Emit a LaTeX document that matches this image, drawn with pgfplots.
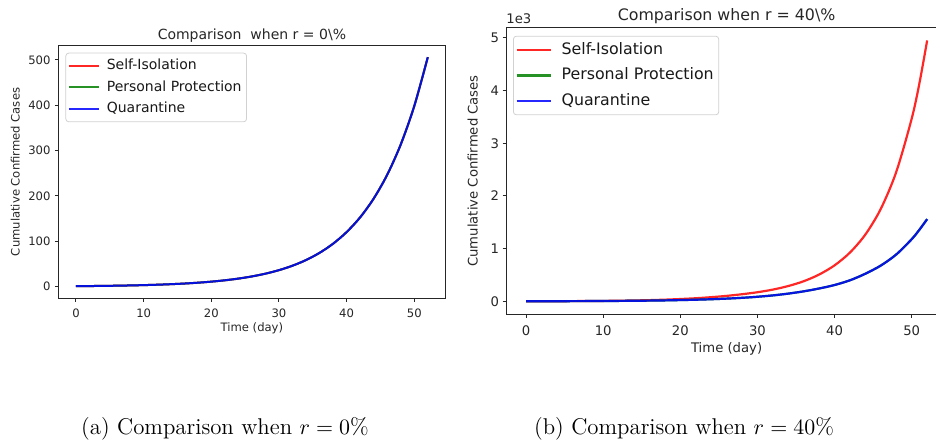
\documentclass[border=0pt]{standalone}
\usepackage{fontspec}
\newfontfamily\dv{DejaVu Sans}
\usepackage{pgfplots}
\usepackage{pgfplotstable}
\pgfplotsset{compat=1.18}

% r = 0%: the three curves coincide
\pgfplotstableread{
t si pp qu
0 1.00 1.00 1.00
2 1.27 1.27 1.27
4 1.61 1.61 1.61
6 2.05 2.05 2.05
8 2.61 2.61 2.61
10 3.31 3.31 3.31
12 4.21 4.21 4.21
14 5.35 5.35 5.35
16 6.79 6.79 6.79
18 8.63 8.63 8.63
20 10.97 10.97 10.97
22 13.93 13.93 13.93
24 17.70 17.70 17.70
26 22.49 22.49 22.49
28 28.58 28.58 28.58
30 36.32 36.32 36.32
32 46.14 46.14 46.14
34 58.63 58.63 58.63
36 74.49 74.49 74.49
38 94.65 94.65 94.65
40 120.3 120.3 120.3
42 152.8 152.8 152.8
44 194.2 194.2 194.2
46 246.7 246.7 246.7
48 313.5 313.5 313.5
50 398.3 398.3 398.3
52 506.0 506.0 506.0
}\zerodata

% r = 40%, in thousands of cases
\pgfplotstableread{
t si pp qu
0 0.0020 0.0018 0.0018
2 0.0024 0.0024 0.0024
4 0.0031 0.0030 0.0030
6 0.0043 0.0040 0.0040
8 0.0060 0.0050 0.0050
10 0.0084 0.0066 0.0066
12 0.0118 0.0085 0.0085
14 0.0165 0.0110 0.0110
16 0.0230 0.0140 0.0140
18 0.0320 0.0180 0.0180
20 0.0440 0.0240 0.0240
22 0.0590 0.0310 0.0310
24 0.0790 0.0400 0.0400
26 0.1040 0.0520 0.0520
28 0.1350 0.0670 0.0670
30 0.1730 0.0870 0.0870
32 0.2230 0.1130 0.1130
34 0.2910 0.1470 0.1470
36 0.3820 0.1900 0.1900
38 0.5090 0.2440 0.2440
40 0.6830 0.3100 0.3100
42 0.9270 0.4000 0.4000
44 1.2700 0.5250 0.5250
46 1.7580 0.6800 0.6800
48 2.4580 0.8900 0.8900
50 3.4690 1.1800 1.1800
51 4.1400 1.3600 1.3600
52 4.9500 1.5600 1.5600
}\fortydata

\definecolor{mplgreen}{rgb}{0,0.5,0}
\definecolor{axgray}{gray}{0.15}

\pgfplotsset{
  mpl/.style={
    scale only axis,
    anchor=south west,
    clip mode=individual,
    axis line style={axgray, line width=0.5pt},
    tick align=outside,
    xtick pos=bottom, ytick pos=left,
    tick style={axgray, line width=0.5pt},
    major tick length=1.75pt,
    xtick={0,10,...,50},
    xmin=-2.6, xmax=54.6,
    tick label style={/pgf/number format/assume math mode=true, text=axgray},
    xticklabel style={anchor=base, inner sep=0pt},
    yticklabel style={anchor=east, inner sep=0pt},
    legend cell align=left,
    legend style={at={(0,1)}, anchor=north west, xshift=3.5pt,
      draw=black!18, rounded corners=1.5pt, inner xsep=1pt,
      nodes={inner xsep=1.5pt, inner ysep=0.8pt, text=black!90}},
    every axis title/.style={at={(0.5,1)}, anchor=base, inner sep=0pt, yshift=3.2pt, text=axgray},
    xlabel={Time (day)},
    ylabel={Cumulative Confirmed Cases},
  },
}

\begin{document}
\begin{tikzpicture}
\path[use as bounding box] (0pt,0pt) rectangle (468pt,222pt);

\begin{axis}[
  mpl,
  at={(29.2pt,72.95pt)},
  width=193.5pt, height=126.2pt,
  ymin=-25.3, ymax=531.3,
  ytick={0,100,...,500},
  font=\dv\fontsize{5.8}{7}\selectfont,
  xticklabel style={yshift=-7.8pt},
  yticklabel style={xshift=-2pt},
  title={\fontsize{7}{8}\selectfont Comparison\ \ when r = 0\textbackslash\%},
  every axis y label/.style={at={(rel axis cs:0,0.5)}, rotate=90, anchor=center, yshift=21.5pt, text=axgray},
  every axis x label/.style={at={(rel axis cs:0.5,0)}, anchor=center, yshift=-15.3pt, text=axgray},
  legend style={font=\dv\fontsize{7}{8}\selectfont, yshift=-3.5pt, row sep=2.4pt, inner ysep=2.15pt},
  legend image code/.code={\draw[#1] (0pt,0pt) -- (15pt,0pt); \path (17pt,0pt);},
]
\addplot[red, opacity=0.85, line width=1pt, smooth] table[x=t, y=si] {\zerodata};
\addlegendentry{Self-Isolation}
\addplot[mplgreen, opacity=0.85, line width=1pt, smooth] table[x=t, y=pp] {\zerodata};
\addlegendentry{Personal Protection}
\addplot[blue, opacity=0.85, line width=1pt, smooth] table[x=t, y=qu] {\zerodata};
\addlegendentry{Quarantine}
\end{axis}

\begin{axis}[
  mpl,
  at={(253pt,64.8pt)},
  width=220.6pt, height=143.5pt,
  ymin=-0.2475, ymax=5.1975,
  ytick={0,1,...,5},
  font=\dv\fontsize{6.6}{8}\selectfont,
  xticklabel style={yshift=-8.7pt},
  yticklabel style={xshift=-1.6pt},
  title={\fontsize{7.9}{9}\selectfont Comparison when r = 40\textbackslash\%},
  every axis y label/.style={at={(rel axis cs:0,0.5)}, rotate=90, anchor=center, yshift=16.7pt, text=axgray},
  every axis x label/.style={at={(rel axis cs:0.5,0)}, anchor=center, yshift=-17pt, text=axgray},
  legend style={font=\dv\fontsize{7.9}{9}\selectfont, yshift=-4.2pt, row sep=3.5pt, inner ysep=2.5pt},
  legend image code/.code={\draw[#1] (0pt,0pt) -- (17pt,0pt); \path (20.5pt,0pt);},
]
\addplot[red, opacity=0.85, line width=1.1pt, smooth] table[x=t, y=si] {\fortydata};
\addlegendentry{Self-Isolation}
\addplot[mplgreen, opacity=0.85, line width=1.1pt, smooth] table[x=t, y=pp] {\fortydata};
\addlegendentry{Personal Protection}
\addplot[blue, opacity=0.85, line width=1.1pt, smooth] table[x=t, y=qu] {\fortydata};
\addlegendentry{Quarantine}
\node[anchor=base west, inner sep=0pt, text=axgray, yshift=2pt] at (rel axis cs:0,1) {1e3};
\end{axis}

\node[anchor=base, inner sep=0pt, font=\fontsize{11.4}{13}\selectfont] at (112.5pt,5pt)
  {(a) Comparison when $r = 0\%$};
\node[anchor=base, inner sep=0pt, font=\fontsize{11.4}{13}\selectfont] at (342pt,5pt)
  {(b) Comparison when $r = 40\%$};
\end{tikzpicture}
\end{document}
